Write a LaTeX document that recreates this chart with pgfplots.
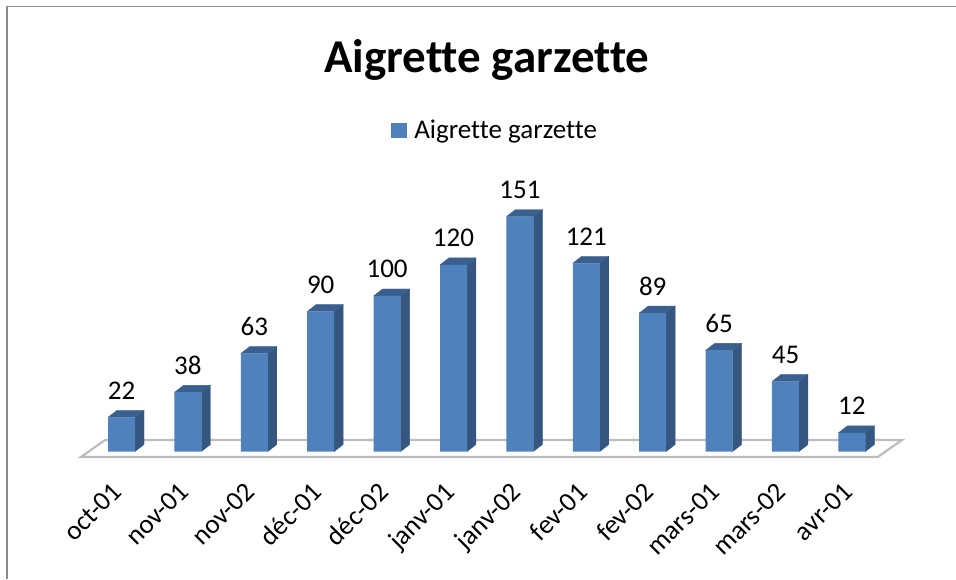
\documentclass[border=0pt]{standalone}
\usepackage{pgfplots}
\pgfplotsset{compat=1.18}
\usepackage{fontspec}
\setmainfont{Carlito}[Ligatures=NoCommon]
\definecolor{barfront}{HTML}{4F81BD}
\definecolor{barside}{HTML}{34567F}
\definecolor{bartop}{HTML}{3A6090}
\definecolor{floorline}{HTML}{BDBDBD}
\definecolor{framec}{HTML}{8C8C8C}
% side and top face of one bar: index, value
\newcommand\threed[2]{%
  \pgfmathsetmacro\xa{#1+0.2033}%
  \pgfmathsetmacro\xb{#1+0.2033+0.1355}%
  \pgfmathsetmacro\xc{#1-0.2033}%
  \pgfmathsetmacro\xd{#1-0.2033+0.1355}%
  \pgfmathsetmacro\yt{#2+4.5}%
  \edef\tmp{\noexpand\addplot[fill=barside,draw=barside,line width=0.3pt,forget plot] coordinates {(\xa,0) (\xb,4.5) (\xb,\yt) (\xa,#2)} -- cycle;
  \noexpand\addplot[fill=bartop,draw=bartop,line width=0.3pt,forget plot] coordinates {(\xc,#2) (\xd,\yt) (\xb,\yt) (\xa,#2)} -- cycle;}%
  \tmp}
\begin{document}
\begin{tikzpicture}[x=1pt,y=1pt]
\useasboundingbox (0,0) rectangle (956,579);
\begin{axis}[
  at={(0,0)},anchor=south west,
  scale only axis,width=956pt,height=579pt,
  xmin=-1.83,xmax=12.568,ymin=-81.94,ymax=290.2,
  clip=false,
  axis line style={draw=none},
  major tick length=0pt,
  ytick=\empty,
  xtick={0,1,2,3,4,5,6,7,8,9,10,11},
  xticklabels={oct-01,nov-01,nov-02,déc-01,déc-02,janv-01,janv-02,fev-01,fev-02,mars-01,mars-02,avr-01},
  xticklabel style={rotate=45,anchor=north east,font=\fontsize{27}{27}\selectfont,yshift=77pt,xshift=62pt,inner sep=0pt},
  title={\textbf{Aigrette garzette}},
  title style={at={(axis description cs:0.5094,0.8652)},anchor=base,font=\fontsize{47}{47}\selectfont},
  legend style={at={(axis cs:4.06,206.5)},anchor=west,draw=none,fill=none,font=\fontsize{27}{27}\selectfont,inner sep=0pt,row sep=0pt},
  legend cell align=left,
  legend image code/.code={\fill[barfront] (0pt,-7.5pt) rectangle (16pt,7.5pt);},
]
\addplot[fill=white,draw=floorline,line width=2.2pt,forget plot] coordinates {(-0.61,-3.5) (11.39,-3.5) (11.755,7.4) (-0.248,7.4)} -- cycle;
\threed{0}{22}\threed{1}{38}\threed{2}{63}\threed{3}{90}\threed{4}{100}\threed{5}{120}
\threed{6}{151}\threed{7}{121}\threed{8}{89}\threed{9}{65}\threed{10}{45}\threed{11}{12}
\addplot[ybar,bar width=27pt,bar shift=0pt,fill=barfront,draw=none,
  nodes near coords,
  nodes near coords style={anchor=base,font=\fontsize{27}{27}\selectfont,yshift=18pt,black,/pgf/number format/assume math mode=true}]
  coordinates {(0,22) (1,38) (2,63) (3,90) (4,100) (5,120) (6,151) (7,121) (8,89) (9,65) (10,45) (11,12)};
\addlegendentry{\kern5pt Aigrette garzette}
\end{axis}
\draw[framec,line width=1.5pt] (7,0) -- (7,572.5) -- (956,572.5);
\end{tikzpicture}
\end{document}
